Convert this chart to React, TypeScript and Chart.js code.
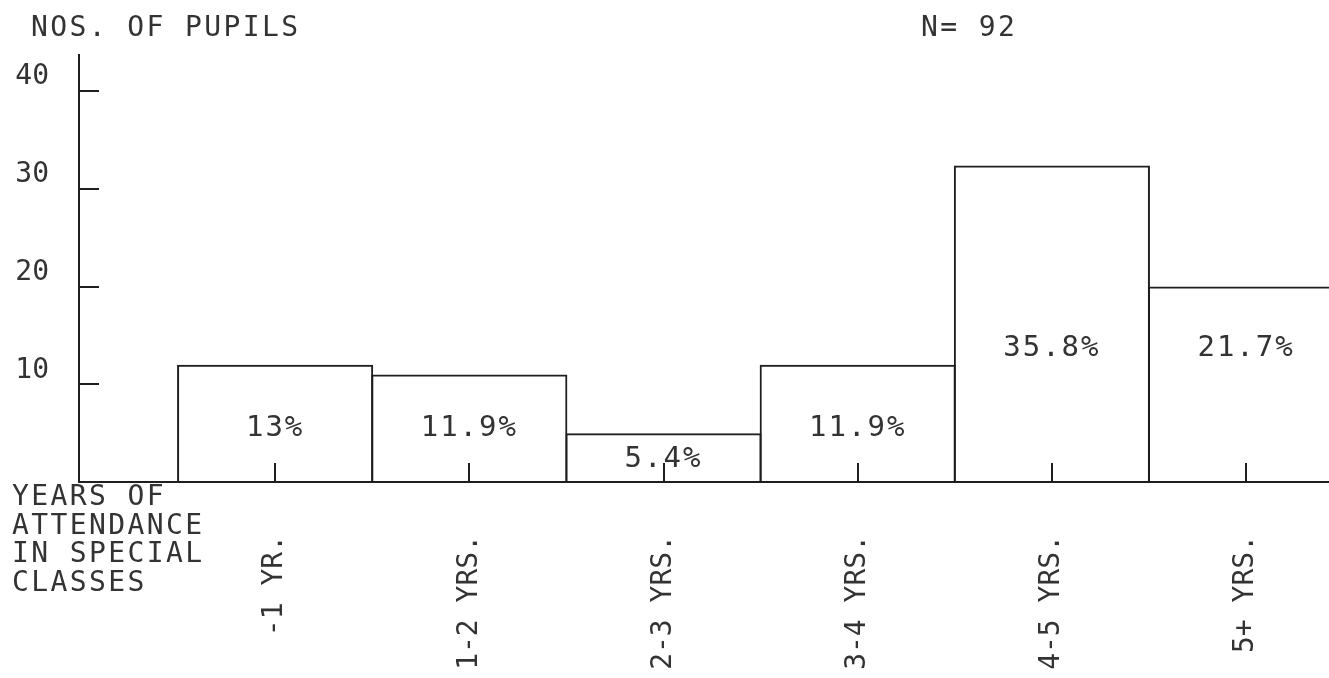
import { useEffect, useRef } from 'react';
import { Chart, registerables } from 'chart.js';

Chart.register(...registerables);

// ---- data ----
const categories = ['-1 YR.', '1-2 YRS.', '2-3 YRS.', '3-4 YRS.', '4-5 YRS.', '5+ YRS.'];
const pupils = [12, 11, 5, 12, 32.4, 20];
const percentLabels = ['13%', '11.9%', '5.4%', '11.9%', '35.8%', '21.7%'];
const yTickValues = [10, 20, 30, 40];
const yTitle = 'NOS. OF PUPILS';
const totalLabel = 'N= 92';
const xTitleLines = ['YEARS OF', 'ATTENDANCE', 'IN SPECIAL', 'CLASSES'];

// label heights (in axis units) where the typed percentages sit
const pctLabelLevels = [5.5, 5.5, 2.3, 5.5, 13.7, 13.7];

const MONO = '"DejaVu Sans Mono", "Liberation Mono", monospace';
const LINE = '#1e1e1e';
const TEXT = '#333333';

const textPlugin = {
  id: 'typedText',
  afterDraw(chart: any) {
    const { ctx } = chart;
    const x = chart.scales.x;
    const y = chart.scales.y;
    ctx.save();
    ctx.fillStyle = TEXT;
    ctx.font = `28px ${MONO}`;
    (ctx as any).letterSpacing = '2.4px';
    ctx.textAlign = 'left';
    ctx.textBaseline = 'alphabetic';
    ctx.fillText(yTitle, 31, 36);
    ctx.fillText(totalLabel, 921, 36);
    xTitleLines.forEach((line, i) => ctx.fillText(line, 12, 505 + i * 28.5));

    ctx.font = `29px ${MONO}`;
    (ctx as any).letterSpacing = '2px';
    ctx.textAlign = 'center';
    ctx.textBaseline = 'middle';
    percentLabels.forEach((t, i) => {
      ctx.fillText(t, x.getPixelForValue(i + 1), y.getPixelForValue(pctLabelLevels[i]));
    });
    ctx.restore();
  },
};

export default function App() {
  const ref = useRef<HTMLCanvasElement | null>(null);

  useEffect(() => {
    if (!ref.current) return;
    const chart = new Chart(ref.current, {
      type: 'bar',
      data: {
        datasets: [
          {
            data: pupils.map((v, i) => ({ x: i + 1, y: v })),
            backgroundColor: 'rgba(0,0,0,0)',
            borderColor: LINE,
            borderWidth: 2,
            barPercentage: 1.01,
            categoryPercentage: 1,
          },
        ],
      },
      options: {
        responsive: false,
        animation: false,
        devicePixelRatio: 1,
        layout: { padding: { top: 55, right: 0, left: 0, bottom: 0 } },
        plugins: {
          legend: { display: false },
          tooltip: { enabled: false },
          title: { display: false },
        },
        scales: {
          x: {
            type: 'linear',
            offset: false,
            bounds: 'data',
            min: -0.01,
            max: 6.427,
            afterBuildTicks: (s: any) => {
              s.ticks = categories.map((_, i) => ({ value: i + 1 }));
            },
            afterFit: (s: any) => {
              s.height = 196;
              s.paddingLeft = 0;
              s.paddingRight = 0;
              s.paddingTop = 0;
              s.paddingBottom = 0;
            },
            grid: {
              display: true,
              offset: false,
              drawOnChartArea: false,
              drawTicks: true,
              tickLength: -19,
              color: LINE,
              lineWidth: 2,
            },
            border: { display: true, color: LINE, width: 2 },
            ticks: {
              autoSkip: false,
              minRotation: 90,
              maxRotation: 90,
              padding: 72,
              color: TEXT,
              font: { family: MONO, size: 28 },
              callback: (v: any) => categories[Math.round(Number(v)) - 1] ?? '',
            },
          },
          y: {
            type: 'linear',
            bounds: 'data',
            min: 0,
            max: 43.7,
            afterBuildTicks: (s: any) => {
              s.ticks = yTickValues.map((value) => ({ value }));
            },
            afterFit: (s: any) => {
              s.width = 79;
              s.paddingLeft = 0;
              s.paddingRight = 0;
              s.paddingTop = 0;
              s.paddingBottom = 0;
            },
            grid: {
              display: true,
              drawOnChartArea: false,
              drawTicks: true,
              tickLength: -20,
              color: LINE,
              lineWidth: 2,
            },
            border: { display: true, color: LINE, width: 2 },
            ticks: {
              padding: 50,
              labelOffset: -14,
              color: TEXT,
              font: { family: MONO, size: 28 },
              callback: (v: any) => String(v),
            },
          },
        },
      },
      plugins: [textPlugin],
    });
    return () => chart.destroy();
  }, []);

  return (
    <div
      style={{
        position: 'fixed',
        left: 0,
        top: 0,
        width: 1329,
        height: 678,
        background: '#ffffff',
      }}
    >
      <canvas ref={ref} width={1329} height={678} style={{ display: 'block' }} />
    </div>
  );
}
